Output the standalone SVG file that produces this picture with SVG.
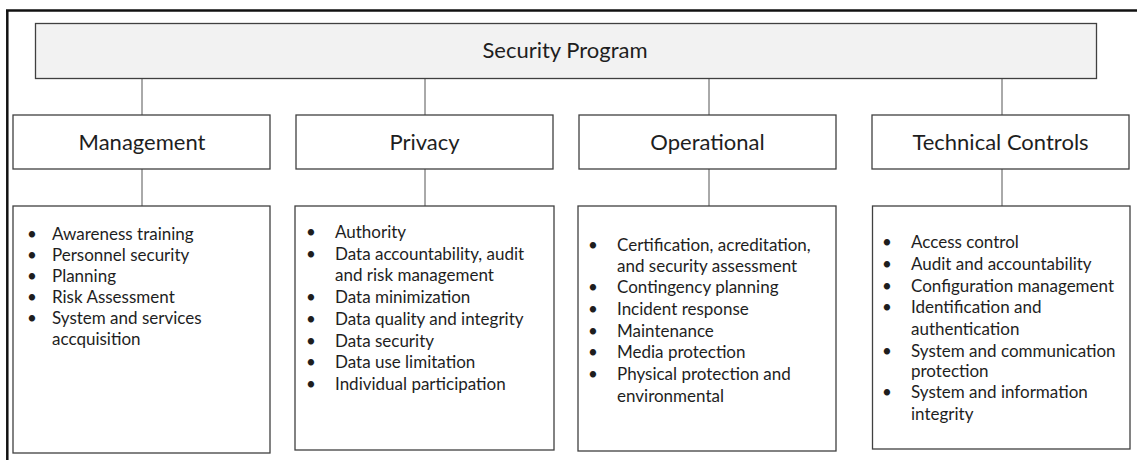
<svg xmlns="http://www.w3.org/2000/svg" width="1137" height="460" viewBox="0 0 1137 460">
<style>
.frame{stroke:#111;stroke-width:2.5;fill:none}
.box{fill:#fff;stroke:#404040;stroke-width:1.3}
.top{fill:#f2f2f2;stroke:#404040;stroke-width:1.3}
.conn{stroke:#555;stroke-width:1;fill:none}
.h{font-family:Lato,"Liberation Sans",sans-serif;font-size:22px;fill:#1e1e1e;text-anchor:middle}
.li{font-family:Lato,"Liberation Sans",sans-serif;font-size:17px;fill:#1e1e1e}
</style>
<rect width="1137" height="460" fill="#fff"/>
<g id="frame">
<line class="frame" x1="7.3" y1="10.5" x2="7.3" y2="460"/>
<line class="frame" x1="6" y1="10.5" x2="1137" y2="10.5"/>
</g>
<g id="connectors">
<line class="conn" x1="142" y1="78" x2="142" y2="115"/>
<line class="conn" x1="425" y1="78" x2="425" y2="115"/>
<line class="conn" x1="709" y1="78" x2="709" y2="115"/>
<line class="conn" x1="1002" y1="78" x2="1002" y2="115"/>
<line class="conn" x1="142" y1="169" x2="142" y2="206"/>
<line class="conn" x1="425" y1="169" x2="425" y2="206"/>
<line class="conn" x1="709" y1="169" x2="709" y2="206"/>
<line class="conn" x1="1002" y1="169" x2="1002" y2="206"/>
</g>
<g id="security-program">
<rect class="top" x="35.5" y="23.5" width="1061" height="55"/>
<text class="h" x="565" y="58">Security Program</text>
</g>
<g id="management">
<rect class="box" x="13" y="115" width="257" height="54"/>
<text class="h" x="142" y="150">Management</text>
</g>
<g id="privacy">
<rect class="box" x="296" y="115" width="257" height="54"/>
<text class="h" x="424.5" y="150">Privacy</text>
</g>
<g id="operational">
<rect class="box" x="579" y="115" width="257" height="54"/>
<text class="h" x="707.5" y="150">Operational</text>
</g>
<g id="technical-controls">
<rect class="box" x="872" y="115" width="257" height="54"/>
<text class="h" x="1000.5" y="150">Technical Controls</text>
</g>
<g id="management-list">
<rect class="box" x="13" y="206" width="257" height="247"/>
<g class="li">
<text x="27" y="240">•</text><text x="52" y="240">Awareness training</text>
<text x="27" y="261">•</text><text x="52" y="261">Personnel security</text>
<text x="27" y="282">•</text><text x="52" y="282">Planning</text>
<text x="27" y="303">•</text><text x="52" y="303">Risk Assessment</text>
<text x="27" y="324">•</text><text x="52" y="324">System and services</text>
<text x="52" y="345">accquisition</text>
</g>
</g>
<g id="privacy-list">
<rect class="box" x="295" y="206" width="259" height="244"/>
<g class="li">
<text x="306" y="238">•</text><text x="335" y="238">Authority</text>
<text x="306" y="260">•</text><text x="335" y="260">Data accountability, audit</text>
<text x="335" y="281">and risk management</text>
<text x="306" y="303">•</text><text x="335" y="303">Data minimization</text>
<text x="306" y="325">•</text><text x="335" y="325">Data quality and integrity</text>
<text x="306" y="347">•</text><text x="335" y="347">Data security</text>
<text x="306" y="368">•</text><text x="335" y="368">Data use limitation</text>
<text x="306" y="390">•</text><text x="335" y="390">Individual participation</text>
</g>
</g>
<g id="operational-list">
<rect class="box" x="578" y="206" width="258" height="245"/>
<g class="li">
<text x="588" y="251">•</text><text x="617" y="251">Certification, acreditation,</text>
<text x="617" y="272">and security assessment</text>
<text x="588" y="293">•</text><text x="617" y="293">Contingency planning</text>
<text x="588" y="315">•</text><text x="617" y="315">Incident response</text>
<text x="588" y="337">•</text><text x="617" y="337">Maintenance</text>
<text x="588" y="358">•</text><text x="617" y="358">Media protection</text>
<text x="588" y="380">•</text><text x="617" y="380">Physical protection and</text>
<text x="617" y="402">environmental</text>
</g>
</g>
<g id="technical-list">
<rect class="box" x="872.5" y="206" width="257.5" height="243"/>
<g class="li">
<text x="882" y="248">•</text><text x="911" y="248">Access control</text>
<text x="882" y="270">•</text><text x="911" y="270">Audit and accountability</text>
<text x="882" y="292">•</text><text x="911" y="292">Configuration management</text>
<text x="882" y="313">•</text><text x="911" y="313">Identification and</text>
<text x="911" y="335">authentication</text>
<text x="882" y="357">•</text><text x="911" y="357">System and communication</text>
<text x="911" y="377">protection</text>
<text x="882" y="398">•</text><text x="911" y="398">System and information</text>
<text x="911" y="420">integrity</text>
</g>
</g>
</svg>
